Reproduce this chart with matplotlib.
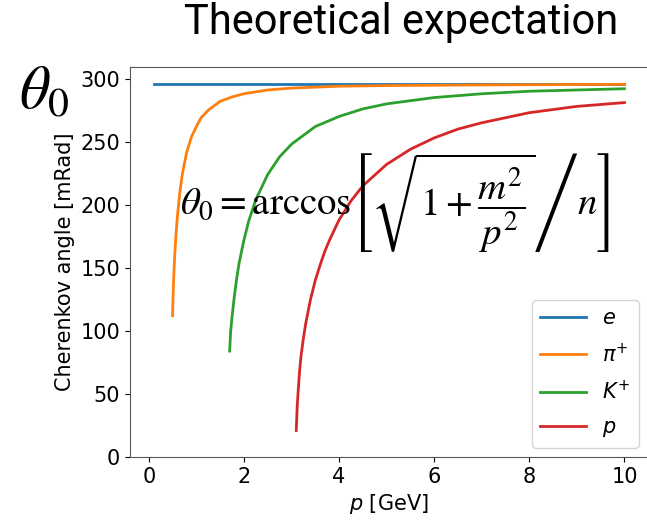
import matplotlib
matplotlib.use("Agg")
import matplotlib.pyplot as plt

# momentum [GeV] and Cherenkov angle [mRad]
p_e = [0.1, 1.0, 3.0, 5.0, 10.0]
theta_e = [295.5, 295.5, 295.5, 295.5, 295.5]

p_pi = [0.5, 0.51, 0.52, 0.53, 0.55, 0.575, 0.6, 0.65, 0.7, 0.75, 0.8, 0.9, 1.0,
        1.1, 1.25, 1.5, 1.75, 2.0, 2.5, 3.0, 4.0, 5.0, 7.0, 10.0]
theta_pi = [112, 127, 138, 148, 163, 178, 190, 209, 223, 233, 242, 254, 262,
            269, 275, 282, 285.5, 288, 291, 292.5, 294, 294.5, 295, 295.5]

p_k = [1.7, 1.72, 1.75, 1.8, 1.85, 1.9, 2.0, 2.1, 2.25, 2.5, 2.75, 3.0, 3.5,
       4.0, 4.5, 5.0, 6.0, 7.0, 8.0, 9.0, 10.0]
theta_k = [84, 99, 111, 128, 142, 154, 172, 187, 204, 224, 238, 248, 262,
           270, 276, 280, 285, 288, 290, 291, 292]

p_p = [3.1, 3.12, 3.14, 3.17, 3.2, 3.25, 3.3, 3.4, 3.5, 3.6, 3.7, 3.8, 4.0,
       4.25, 4.5, 5.0, 5.5, 6.0, 6.5, 7.0, 8.0, 9.0, 10.0]
theta_p = [21, 40, 52, 68, 80, 94, 106, 125, 140, 152, 163, 172, 188,
           203, 215, 232, 244, 253, 260, 265, 273, 278, 281]

labels = ["$e$", r"$\pi^{+}$", "$K^{+}$", "$p$"]

plt.rcParams["font.size"] = 15
plt.rcParams["mathtext.fontset"] = "dejavusans"

fig = plt.figure(figsize=(6.47, 5.2), dpi=100)
ax = fig.add_axes([130 / 647, 63 / 520, 518 / 647, 390 / 520])

ax.plot(p_e, theta_e, lw=2.0, label=labels[0])
ax.plot(p_pi, theta_pi, lw=2.0, label=labels[1])
ax.plot(p_k, theta_k, lw=2.0, label=labels[2])
ax.plot(p_p, theta_p, lw=2.0, label=labels[3])

ax.set_ylim(bottom=0)
ax.set_xticks([0, 2, 4, 6, 8, 10])
ax.set_xlabel("$p$ [GeV]")
ax.set_ylabel("Cherenkov angle [mRad]")
for s in ax.spines.values():
    s.set_color("#555555")
ax.legend(loc="lower right", fontsize=15, handlelength=2.2, borderaxespad=0.45,
          labelspacing=0.68)

# annotations laid over the figure
fig.text(0.62, 0.957, "Theoretical expectation", family="Roboto", fontsize=30,
         ha="center", va="center")
plt.rcParams["mathtext.fontset"] = "stix"
fig.text(0.068, 0.823, r"$\theta_0$", fontsize=43, ha="center", va="center")
fig.text(0.61, 0.61,
         r"$\theta_0 = \mathrm{arccos}\left[\sqrt{1+\dfrac{m^2}{p^2}}\middle/ n\right]$",
         fontsize=28, ha="center", va="center")

fig.savefig("out.png", dpi=100)
